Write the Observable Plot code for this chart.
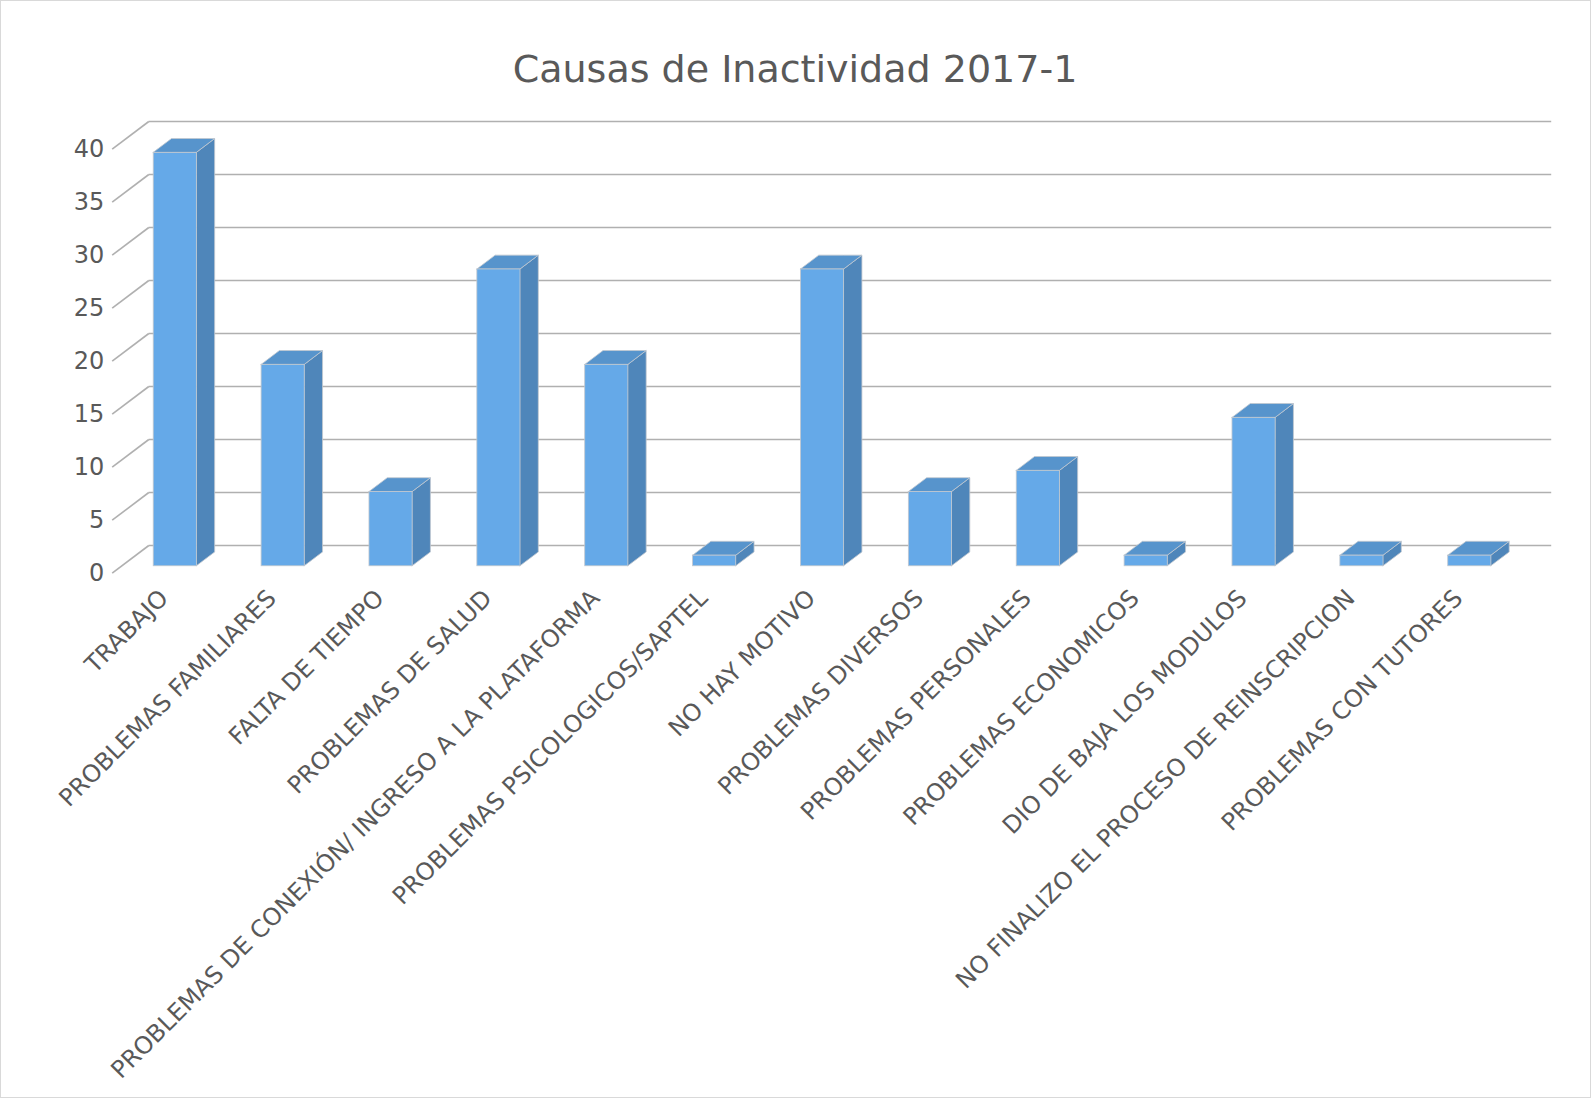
<!DOCTYPE html>
<html>
<head>
<meta charset="utf-8">
<script src="https://cdn.jsdelivr.net/npm/d3@7"></script>
<script src="https://cdn.jsdelivr.net/npm/@observablehq/plot@0.6"></script>
<style>
  html, body { margin: 0; padding: 0; background: #fff; }
  #wrap { position: relative; width: 1591px; height: 1098px; overflow: hidden; font-family: "DejaVu Sans", sans-serif; }
  #title { position: absolute; left: 0; width: 1590px; top: 49.5px; text-align: center; font-size: 38px; line-height: 38px; color: #595959; font-family: "DejaVu Sans", sans-serif; }
  #border { position: absolute; left: 0; top: 0; right: 0; bottom: 0; border: 1.5px solid #d9d9d9; pointer-events: none; }
  #chart { position: absolute; left: 0; top: 0; }
</style>
</head>
<body>
<div id="wrap">
  <div id="chart"></div>
  <div id="title">Causas de Inactividad 2017-1</div>
  <div id="border"></div>
</div>
<script>
const categories = [
  "TRABAJO",
  "PROBLEMAS FAMILIARES",
  "FALTA DE TIEMPO",
  "PROBLEMAS DE SALUD",
  "PROBLEMAS DE CONEXIÓN/ INGRESO A LA PLATAFORMA",
  "PROBLEMAS PSICOLOGICOS/SAPTEL",
  "NO HAY MOTIVO",
  "PROBLEMAS DIVERSOS",
  "PROBLEMAS PERSONALES",
  "PROBLEMAS ECONOMICOS",
  "DIO DE BAJA LOS MODULOS",
  "NO FINALIZO EL PROCESO DE REINSCRIPCION",
  "PROBLEMAS CON TUTORES"
];
const values = [39, 19, 7, 28, 19, 1, 28, 7, 9, 1, 14, 1, 1];
const yTicks = [0, 5, 10, 15, 20, 25, 30, 35, 40];

// 3D styling (depth of the box in data units, bar width as fraction of band)
const DX = 0.3393, DY = 2.613, W = 0.4;
const n = categories.length;
const yMax = 40;

const bars = values.map((v, i) => {
  const x1 = i + 0.5 - W / 2 + 0.25 * DX;
  const x2 = x1 + W;
  const vf = v + 0.25 * DY, vb = v + 0.75 * DY;
  return {i, v, x1, x2, y0: 0.25 * DY, vf, vb};
});
const sidePts = bars.flatMap(b => [
  {i: b.i, x: b.x2, y1: b.y0, y2: b.vf},
  {i: b.i, x: b.x2 + 0.5 * DX, y1: b.y0 + 0.5 * DY, y2: b.vb}
]);
const topPts = bars.flatMap(b => [
  {i: b.i, x: b.x1, y1: b.vf, y2: b.vf},
  {i: b.i, x: b.x1 + 0.5 * DX, y1: b.vf, y2: b.vb},
  {i: b.i, x: b.x2, y1: b.vf, y2: b.vb},
  {i: b.i, x: b.x2 + 0.5 * DX, y1: b.vb, y2: b.vb}
]);

const gridCol = "#b0b0b0";
const txt = "#595959";

const chart = Plot.plot({
  width: 1591,
  height: 1098,
  marginLeft: 111.7,
  marginRight: 76.9,
  marginTop: 121,
  marginBottom: 525.3,
  style: {fontFamily: "DejaVu Sans, sans-serif", color: txt, background: "transparent"},
  x: {domain: [0, n], axis: null},
  y: {domain: [0, yMax + DY], axis: null},
  marks: [
    // back wall gridlines
    Plot.link(yTicks, {x1: DX, x2: n + DX, y1: d => d + DY, y2: d => d + DY, stroke: gridCol, strokeWidth: 1.6}),
    // side wall diagonals
    Plot.link(yTicks, {x1: 0, x2: DX, y1: d => d, y2: d => d + DY, stroke: gridCol, strokeWidth: 1.6}),
    // bar faces
    Plot.areaY(sidePts, {x: "x", y1: "y1", y2: "y2", z: "i", fill: "#4f86ba", stroke: "#c2c8cf", strokeWidth: 0.8, curve: "linear"}),
    Plot.areaY(topPts, {x: "x", y1: "y1", y2: "y2", z: "i", fill: "#5794cc", stroke: "#c2c8cf", strokeWidth: 0.8, curve: "linear"}),
    Plot.rect(bars, {x1: "x1", x2: "x2", y1: "y0", y2: "vf", fill: "#65a9e8", stroke: "#c2c8cf", strokeWidth: 0.8}),
    // y axis labels on the front plane
    Plot.axisY(yTicks, {anchor: "left", tickSize: 0, tickPadding: 8, fontSize: 24, label: null, fill: txt}),
    // category labels
    Plot.text(categories, {x: (d, i) => i + 0.5, y: 0, text: d => d, rotate: -45, textAnchor: "end", dx: -2, dy: 21, fontSize: 24, fill: txt})
  ]
});
document.getElementById("chart").appendChild(chart);
</script>
</body>
</html>
